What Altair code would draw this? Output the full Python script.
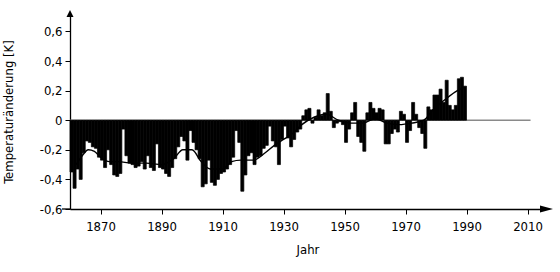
import altair as alt
import pandas as pd

# ---- data ----
years = list(range(1860, 1990))
anomaly = [
    -0.35, -0.46, -0.33, -0.40, -0.22, -0.14, -0.15, -0.18, -0.19, -0.25,   # 1860s
    -0.27, -0.32, -0.20, -0.30, -0.37, -0.38, -0.36, -0.06, -0.24, -0.29,   # 1870s
    -0.30, -0.32, -0.31, -0.28, -0.33, -0.24, -0.32, -0.34, -0.16, -0.32,   # 1880s
    -0.33, -0.36, -0.38, -0.32, -0.26, -0.18, -0.11, -0.14, -0.27, -0.07,   # 1890s
    -0.15, -0.20, -0.26, -0.45, -0.43, -0.27, -0.42, -0.44, -0.40, -0.36,   # 1900s
    -0.35, -0.33, -0.30, -0.25, -0.07, -0.15, -0.48, -0.37, -0.24, -0.22,   # 1910s
    -0.30, -0.25, -0.24, -0.19, -0.17, -0.04, -0.14, -0.18, -0.30, -0.13,   # 1920s
    -0.04, -0.12, -0.18, -0.13, -0.08, -0.06, 0.03, 0.07, 0.08, -0.02,      # 1930s
    0.02, 0.07, 0.03, 0.05, 0.18, 0.06, -0.05, -0.02, -0.01, -0.03,         # 1940s
    -0.15, -0.06, 0.05, 0.12, -0.11, -0.15, -0.21, 0.05, 0.12, 0.08,        # 1950s
    0.05, 0.08, 0.07, -0.16, -0.16, -0.09, -0.06, -0.08, 0.06, 0.04,        # 1960s
    -0.15, -0.07, 0.12, 0.04, -0.05, -0.09, -0.19, 0.09, 0.07, 0.17,        # 1970s
    0.17, 0.21, 0.12, 0.27, 0.10, 0.07, 0.10, 0.28, 0.29, 0.23,             # 1980s
]

smooth_years = [1862, 1864, 1866, 1868, 1870, 1873, 1876, 1880, 1885, 1890,
                1894, 1897, 1900, 1903, 1906, 1910, 1913, 1916, 1920, 1924,
                1927, 1930, 1933, 1936, 1940, 1944, 1948, 1952, 1956, 1960,
                1964, 1968, 1972, 1976, 1979, 1983, 1987, 1989]
smooth_values = [-0.30, -0.24, -0.20, -0.21, -0.25, -0.28, -0.28, -0.29, -0.29, -0.30,
                 -0.26, -0.20, -0.20, -0.28, -0.33, -0.33, -0.28, -0.27, -0.27, -0.22,
                 -0.17, -0.13, -0.09, -0.03, 0.02, 0.04, 0.00, -0.02, -0.02, 0.01,
                 -0.02, -0.03, -0.02, 0.00, 0.07, 0.14, 0.20, 0.22]

x_ticks = [1870, 1890, 1910, 1930, 1950, 1970, 1990, 2010]
y_ticks = [-0.6, -0.4, -0.2, 0.0, 0.2, 0.4, 0.6]
baseline_years = [1860, 2011]

y_title = "Temperaturänderung [K]"
x_title = "Jahr"

FONT = "Liberation Sans Narrow, DejaVu Sans Condensed, Liberation Sans, sans-serif"
W, H = 475, 195

xs = alt.Scale(domain=[1860, 1860 + W / 3.05], nice=False, zero=False)
ys = alt.Scale(domain=[-0.6, -0.6 + H / 148.0], nice=False, zero=False)

bars_df = pd.DataFrame({"year": years, "value": anomaly})
smooth_df = pd.DataFrame({"year": smooth_years, "value": smooth_values})
base_df = pd.DataFrame({"x": [baseline_years[0]], "x2": [baseline_years[1]], "y": [0.0]})
one = pd.DataFrame({"a": [0]})

y_label_expr = ("abs(datum.value) < 0.001 ? '0' : (datum.value < 0 ? '-' : '') + "
                "replace(format(abs(datum.value), '.1f'), '.', ',')")

x_axis = alt.Axis(values=x_ticks, format="d", title=x_title,
                  labelFontSize=13, titleFontSize=13, labelPadding=6,
                  titlePadding=10, tickSize=5, domainWidth=1.3,
                  labelOverlap=False, titleFontWeight="normal")
y_axis = alt.Axis(values=y_ticks, tickCount=7, labelExpr=y_label_expr, title=y_title,
                  labelFontSize=13, titleFontSize=13, labelPadding=3,
                  titlePadding=24, tickSize=5, domainWidth=1.3,
                  labelOverlap=False, labelFlush=False,
                  titleFontWeight="normal")

baseline = alt.Chart(base_df).mark_rule(color="#8a8a8a", strokeWidth=1.5).encode(
    x=alt.X("x:Q", scale=xs, axis=x_axis),
    x2="x2:Q",
    y=alt.Y("y:Q", scale=ys, axis=y_axis),
)

bars = alt.Chart(bars_df).mark_bar(color="black", stroke="black", strokeWidth=0.7).transform_calculate(
    year_end="datum.year + 1"
).encode(
    x=alt.X("year:Q", scale=xs, axis=x_axis),
    x2="year_end:Q",
    y=alt.Y("value:Q", scale=ys, axis=y_axis),
    y2=alt.datum(0),
)

smooth = alt.Chart(smooth_df).mark_line(color="black", strokeWidth=1.4,
                                        interpolate="monotone").encode(
    x=alt.X("year:Q", scale=xs, axis=x_axis),
    y=alt.Y("value:Q", scale=ys, axis=y_axis),
)

x_stub = alt.Chart(one).mark_rule(color="black", strokeWidth=1.3).encode(
    x=alt.value(-8), x2=alt.value(0), y=alt.value(H)
)

arrow_right = alt.Chart(one).mark_point(
    shape="M-1,-0.55L1,0L-1,0.55Z", filled=True, color="black", size=169, opacity=1
).encode(x=alt.value(W + 1.5), y=alt.value(H))

arrow_up = alt.Chart(one).mark_point(
    shape="M-1,1L0,-1L1,1Z", filled=True, color="black", size=49, opacity=1
).encode(x=alt.value(0), y=alt.value(-0.5))

chart = alt.layer(baseline, bars, smooth, x_stub, arrow_right, arrow_up).properties(
    width=W, height=H,
    autosize=alt.AutoSizeParams(type="none"),
    padding={"left": 70, "top": 14, "right": 15, "bottom": 63},
    background="white",
).configure_view(stroke=None).configure_axis(
    grid=False, domainColor="black", tickColor="black", labelColor="black",
    titleColor="black", labelFont=FONT, titleFont=FONT,
)

chart.save("out.html", embed_options={"renderer": "svg", "actions": False})
